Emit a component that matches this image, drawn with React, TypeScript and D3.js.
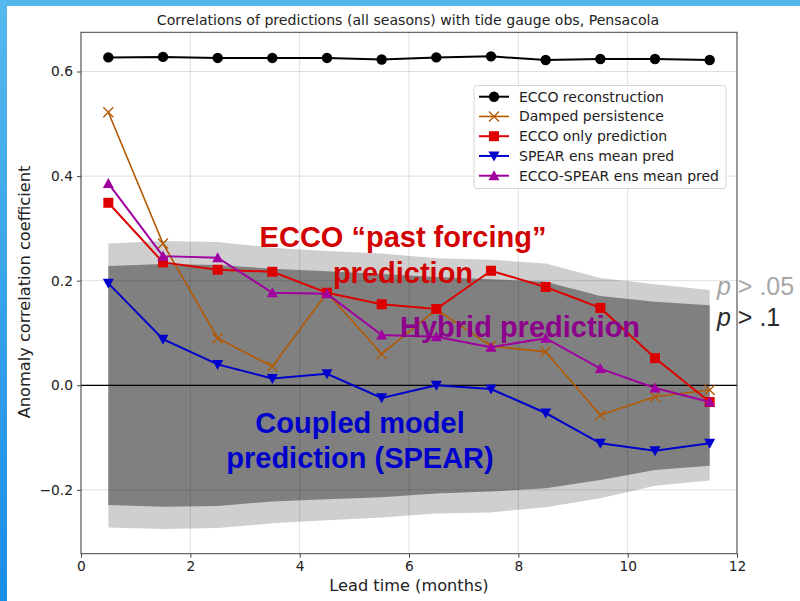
import * as React from "react";
import { useEffect, useRef } from "react";
import * as d3 from "d3";

// lead times (months)
const leads = [0.5, 1.5, 2.5, 3.5, 4.5, 5.5, 6.5, 7.5, 8.5, 9.5, 10.5, 11.5];

const eccoRecon = [0.627, 0.628, 0.626, 0.626, 0.626, 0.623, 0.627, 0.629, 0.622, 0.624, 0.624, 0.622];
const dampedPersist = [0.522, 0.271, 0.09, 0.036, 0.177, 0.06, 0.145, 0.075, 0.064, -0.057, -0.022, -0.009];
const eccoOnly = [0.349, 0.235, 0.221, 0.217, 0.177, 0.155, 0.146, 0.219, 0.188, 0.148, 0.052, -0.032];
const spearMean = [0.195, 0.088, 0.04, 0.013, 0.022, -0.024, 0.0, -0.007, -0.053, -0.111, -0.125, -0.111];
const hybridMean = [0.386, 0.247, 0.244, 0.177, 0.175, 0.096, 0.093, 0.073, 0.09, 0.032, -0.005, -0.032];

// significance bands
const p05Upper = [0.271, 0.276, 0.274, 0.263, 0.257, 0.252, 0.243, 0.24, 0.233, 0.205, 0.193, 0.182];
const p05Lower = [-0.272, -0.275, -0.273, -0.264, -0.258, -0.253, -0.245, -0.243, -0.233, -0.216, -0.192, -0.182];
const p10Upper = [0.228, 0.232, 0.23, 0.223, 0.218, 0.213, 0.207, 0.203, 0.198, 0.171, 0.16, 0.153];
const p10Lower = [-0.229, -0.232, -0.231, -0.222, -0.218, -0.214, -0.207, -0.203, -0.197, -0.181, -0.162, -0.154];

const xTicks = [0, 2, 4, 6, 8, 10, 12];
const yTicks = [-0.2, 0, 0.2, 0.4, 0.6];

const seriesNames = [
  "ECCO reconstruction",
  "Damped persistence",
  "ECCO only prediction",
  "SPEAR ens mean pred",
  "ECCO-SPEAR ens mean pred",
];

const series = [
  { name: seriesNames[0], values: eccoRecon, color: "#000000", marker: "circle", width: 2 },
  { name: seriesNames[1], values: dampedPersist, color: "#b35900", marker: "x", width: 1.6 },
  { name: seriesNames[2], values: eccoOnly, color: "#dd0000", marker: "square", width: 2 },
  { name: seriesNames[3], values: spearMean, color: "#0000cc", marker: "tridown", width: 2 },
  { name: seriesNames[4], values: hybridMean, color: "#a0009f", marker: "triup", width: 2 },
];

const tickFont = "'DejaVu Sans', sans-serif";
const slideFont = "'Liberation Sans', Arial, sans-serif";

function drawMarker(g: any, kind: string, cx: number, cy: number, color: string) {
  if (kind === "circle") {
    g.append("circle").attr("cx", cx).attr("cy", cy).attr("r", 5.2).attr("fill", color);
  } else if (kind === "square") {
    g.append("rect").attr("x", cx - 5).attr("y", cy - 5).attr("width", 10).attr("height", 10).attr("fill", color);
  } else if (kind === "tridown") {
    g.append("path")
      .attr("d", `M${cx - 5.5},${cy - 4.5}L${cx + 5.5},${cy - 4.5}L${cx},${cy + 5.5}Z`)
      .attr("fill", color);
  } else if (kind === "triup") {
    g.append("path")
      .attr("d", `M${cx - 5.5},${cy + 4.5}L${cx + 5.5},${cy + 4.5}L${cx},${cy - 5.5}Z`)
      .attr("fill", color);
  } else if (kind === "x") {
    g.append("path")
      .attr("d", `M${cx - 5},${cy - 5}L${cx + 5},${cy + 5}M${cx - 5},${cy + 5}L${cx + 5},${cy - 5}`)
      .attr("stroke", color)
      .attr("stroke-width", 1.3)
      .attr("fill", "none");
  }
}

export default function App() {
  const ref = useRef<SVGSVGElement>(null);

  useEffect(() => {
    const svg = d3.select(ref.current);
    svg.selectAll("*").remove();

    const width = 800;
    const height = 601;
    const plot = { left: 81, right: 737, top: 32.3, bottom: 553.7 };

    const x = d3.scaleLinear().domain([0, 12]).range([plot.left, plot.right]);
    const y = d3.scaleLinear().domain([-0.322, 0.675]).range([plot.bottom, plot.top]);

    // slide background bits
    const defs = svg.append("defs");
    const grad = defs.append("linearGradient").attr("id", "sidebar").attr("x1", 0).attr("y1", 0).attr("x2", 0).attr("y2", 1);
    grad.append("stop").attr("offset", "0%").attr("stop-color", "#56b8ee");
    grad.append("stop").attr("offset", "100%").attr("stop-color", "#1a8de6");

    svg.append("rect").attr("width", width).attr("height", height).attr("fill", "#ffffff");
    svg.append("rect").attr("x", 0).attr("y", 0).attr("width", width).attr("height", 6).attr("fill", "#52b5ec");
    svg.append("rect").attr("x", 0).attr("y", 0).attr("width", 7).attr("height", height).attr("fill", "url(#sidebar)");

    // title
    svg.append("text")
      .attr("x", 408).attr("y", 25)
      .attr("text-anchor", "middle")
      .attr("font-family", tickFont).attr("font-size", 14.1)
      .attr("fill", "#222")
      .text("Correlations of predictions (all seasons) with tide gauge obs, Pensacola");

    // bands
    const area = (hi: number[], lo: number[]) =>
      d3.area<number>()
        .x((d, i) => x(leads[i]))
        .y0((d, i) => y(lo[i]))
        .y1((d, i) => y(hi[i]))(hi.map((v) => v));

    svg.append("path").attr("d", area(p05Upper, p05Lower)).attr("fill", "#cfcfcf");
    svg.append("path").attr("d", area(p10Upper, p10Lower)).attr("fill", "#808080");

    // grid
    const grid = svg.append("g").attr("stroke", "#000").attr("stroke-opacity", 0.13).attr("stroke-width", 1);
    xTicks.forEach((t) => {
      grid.append("line").attr("x1", x(t)).attr("x2", x(t)).attr("y1", plot.top).attr("y2", plot.bottom);
    });
    yTicks.forEach((t) => {
      grid.append("line").attr("x1", plot.left).attr("x2", plot.right).attr("y1", y(t)).attr("y2", y(t));
    });

    // zero line
    svg.append("line")
      .attr("x1", plot.left).attr("x2", plot.right)
      .attr("y1", y(0)).attr("y2", y(0))
      .attr("stroke", "#000").attr("stroke-width", 1.2);

    // series
    const line = d3.line<number>().x((d, i) => x(leads[i])).y((d) => y(d));
    series.forEach((s) => {
      const g = svg.append("g");
      g.append("path")
        .attr("d", line(s.values))
        .attr("fill", "none")
        .attr("stroke", s.color)
        .attr("stroke-width", s.width);
      s.values.forEach((v, i) => drawMarker(g, s.marker, x(leads[i]), y(v), s.color));
    });

    // frame
    svg.append("rect")
      .attr("x", plot.left).attr("y", plot.top)
      .attr("width", plot.right - plot.left).attr("height", plot.bottom - plot.top)
      .attr("fill", "none").attr("stroke", "#444").attr("stroke-width", 1);

    // x axis
    const xAxis = svg.append("g").attr("transform", `translate(0,${plot.bottom})`)
      .call(d3.axisBottom(x).tickValues(xTicks).tickFormat(d3.format("d")).tickSize(4).tickPadding(4));
    xAxis.select(".domain").remove();
    xAxis.selectAll("line").attr("stroke", "#444");
    xAxis.selectAll("text").attr("font-family", tickFont).attr("font-size", 13.8).attr("fill", "#222");

    // y axis
    const yAxis = svg.append("g").attr("transform", `translate(${plot.left},0)`)
      .call(d3.axisLeft(y).tickValues(yTicks).tickFormat((d: any) => d3.format(".1f")(d).replace("-", "\u2212")).tickSize(4).tickPadding(4));
    yAxis.select(".domain").remove();
    yAxis.selectAll("line").attr("stroke", "#444");
    yAxis.selectAll("text").attr("font-family", tickFont).attr("font-size", 13.8).attr("fill", "#222");

    // axis labels
    svg.append("text")
      .attr("x", 409).attr("y", 591)
      .attr("text-anchor", "middle")
      .attr("font-family", tickFont).attr("font-size", 16.2).attr("fill", "#222")
      .text("Lead time (months)");
    svg.append("text")
      .attr("transform", `translate(30,${(plot.top + plot.bottom) / 2 - 1}) rotate(-90)`)
      .attr("text-anchor", "middle")
      .attr("font-family", tickFont).attr("font-size", 16.2).attr("fill", "#222")
      .text("Anomaly correlation coefficient");

    // legend
    const legend = svg.append("g");
    legend.append("rect")
      .attr("x", 474).attr("y", 85.5).attr("width", 252).attr("height", 103)
      .attr("rx", 3)
      .attr("fill", "#fff").attr("fill-opacity", 0.85)
      .attr("stroke", "#d6d6d6");
    series.forEach((s, i) => {
      const ly = 96.7 + i * 19.75;
      legend.append("line")
        .attr("x1", 479).attr("x2", 509).attr("y1", ly).attr("y2", ly)
        .attr("stroke", s.color).attr("stroke-width", s.width);
      drawMarker(legend, s.marker, 494, ly, s.color);
      legend.append("text")
        .attr("x", 519).attr("y", ly + 5)
        .attr("font-family", tickFont).attr("font-size", 14).attr("fill", "#222")
        .text(s.name);
    });

    // slide annotations
    const note = (tx: number, ty: number, txt: string, color: string, anchor = "middle") =>
      svg.append("text")
        .attr("x", tx).attr("y", ty)
        .attr("text-anchor", anchor)
        .attr("font-family", slideFont).attr("font-weight", "bold").attr("font-size", 29)
        .attr("fill", color)
        .text(txt);

    note(403, 247, "ECCO \u201cpast forcing\u201d", "#d20000");
    note(403, 283, "prediction", "#d20000");
    note(400, 337, "Hybrid prediction", "#8c008c", "start");
    note(360, 433, "Coupled model", "#0000cc");
    note(360, 468, "prediction (SPEAR)", "#0000cc");

    const p05 = svg.append("text")
      .attr("x", 717).attr("y", 295)
      .attr("font-family", slideFont).attr("font-size", 25).attr("fill", "#a6a6a6");
    p05.append("tspan").attr("font-style", "italic").text("p");
    p05.append("tspan").text(" > .05");

    const p10 = svg.append("text")
      .attr("x", 717).attr("y", 326)
      .attr("font-family", slideFont).attr("font-size", 25).attr("fill", "#2a2a2a");
    p10.append("tspan").attr("font-style", "italic").text("p");
    p10.append("tspan").text(" > .1");
  }, []);

  return (
    <svg
      ref={ref}
      width={800}
      height={601}
      style={{ position: "absolute", left: 0, top: 0, display: "block" }}
    />
  );
}
